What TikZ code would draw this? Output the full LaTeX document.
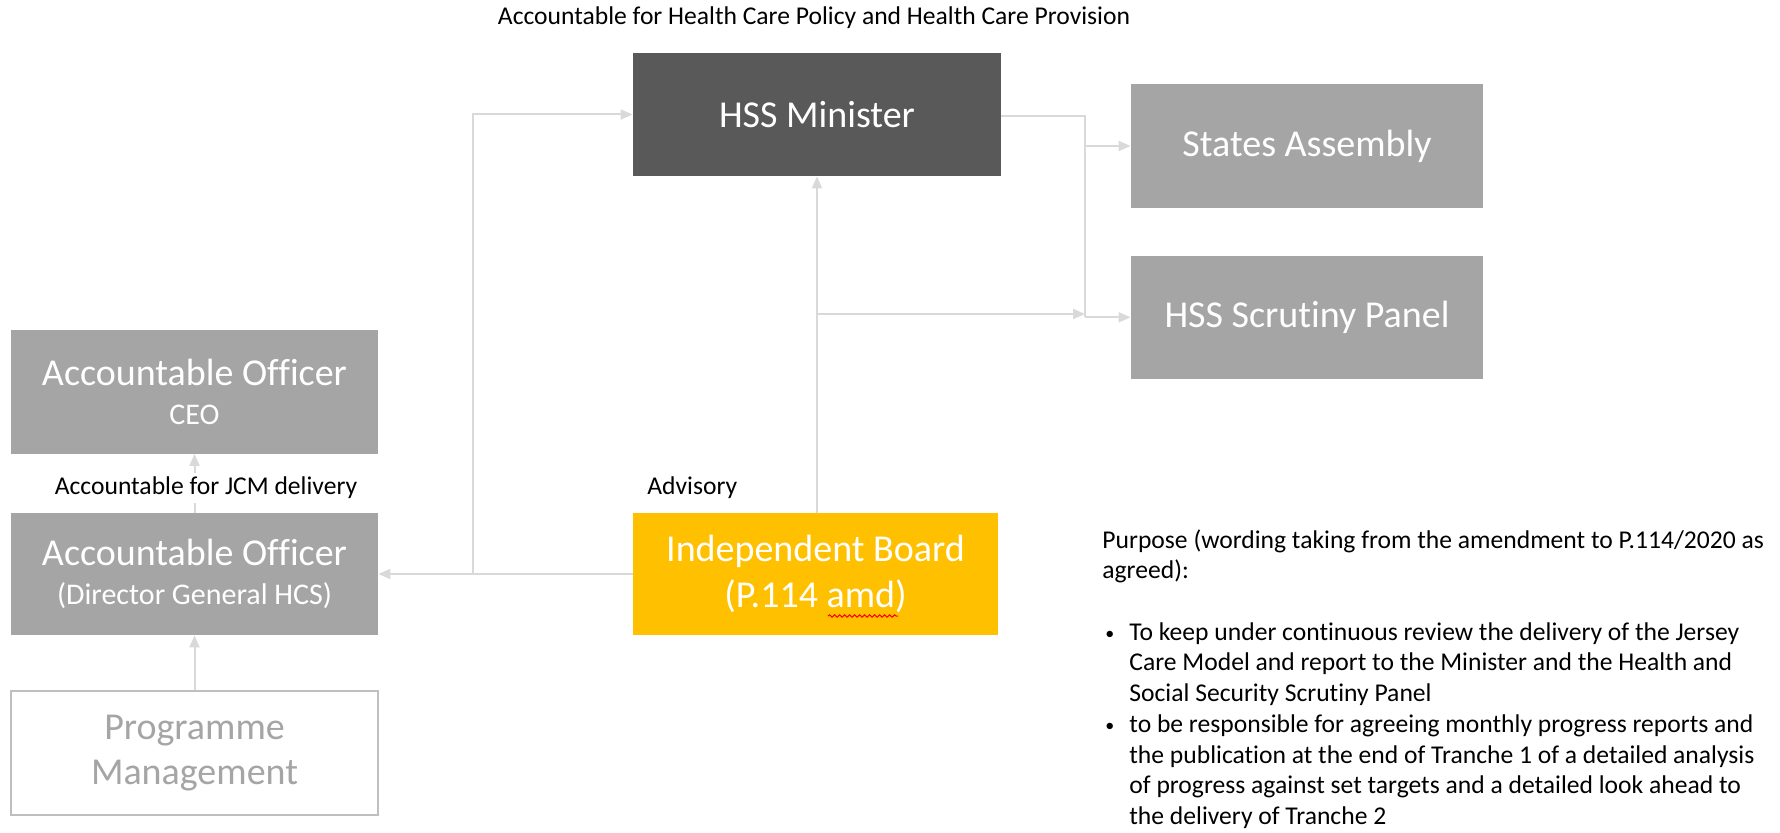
\documentclass[tikz,border=0pt]{standalone}
\usepackage{fontspec}
\setmainfont{Carlito}[Ligatures={NoCommon,NoRare}]
\usetikzlibrary{arrows.meta,positioning,decorations.pathmorphing}

\definecolor{boxgrey}{HTML}{A5A5A5}
\definecolor{darkgrey}{HTML}{595959}
\definecolor{boardgold}{HTML}{FFC000}
\definecolor{linegrey}{HTML}{D9D9D9}
\definecolor{softgrey}{HTML}{BFBFBF}

\newcommand{\purposebullet}{\makebox[13.5pt][l]{\hspace{1.5pt}\raisebox{0.6pt}{\fontsize{9}{9}\selectfont\textbullet}}}

\begin{document}
\begin{tikzpicture}[
    x=0.5pt, y=-0.5pt,
    node distance=23.5pt,
    box/.style={rectangle, fill=boxgrey, text=white, minimum width=183.5pt, minimum height=61.5pt, inner sep=0pt, align=center, font=\fontsize{19}{22.8}\selectfont},
    minister/.style={box, fill=darkgrey, minimum width=184pt},
    board/.style={box, fill=boardgold, minimum width=182.5pt, minimum height=61pt},
    progbox/.style={box, fill=white, draw=softgrey, line width=0.8pt, text=boxgrey},
    note/.style={inner sep=0pt, text=black, font=\fontsize{12.8}{15.35}\selectfont},
    conn/.style={draw=linegrey, line width=1pt, -{Triangle[length=6pt,width=5pt]}},
    wire/.style={draw=linegrey, line width=1pt},
]
    \useasboundingbox (0,0) rectangle (1780,833);

    % Minister and the bodies it reports to
    \node[minister] (minister) at (817,114.5) {HSS Minister};
    \node[box, minimum width=176pt, minimum height=62pt] (assembly) at (1307,146) {States Assembly};
    \node[box, minimum width=176pt, below=of assembly] (scrutiny) {HSS Scrutiny Panel};

    % Accountable officers
    \node[box] (ceo) at (194.5,392) {Accountable Officer\\[-3pt]{\fontsize{15}{18}\selectfont CEO}};
    \node[box, minimum height=61pt] (dg) at (194.5,574) {Accountable Officer\\[-3pt]{\fontsize{15}{18}\selectfont (Director General HCS)}};
    \node[progbox, minimum height=62pt, below=27.5pt of dg] (prog) {Programme\\Management};

    % Independent Board
    \node[board] (board) at (815.5,574) {Independent Board\\(P.114 amd)};
    \draw[red, line width=0.5pt, decorate, decoration={snake, amplitude=0.6pt, segment length=2.5pt}] (828,616) -- (898,616);

    % Junctions
    \coordinate (split) at (473,574);
    \coordinate (tap) at (817,314);
    \coordinate (rail) at (1085,116);

    % Connections
    \draw[conn] (board.west) -- (board.west -| dg.east);
    \draw[conn] (split) |- (minister.west);
    \draw[conn] (board.north -| tap) -- (minister.south -| tap);
    \draw[conn] (tap) -- (tap -| rail);
    \draw[wire] (minister.east |- rail) -- (rail) -- (rail |- scrutiny.west);
    \draw[conn] (rail |- assembly.west) -- (assembly.west);
    \draw[conn] (rail |- scrutiny.west) -- (scrutiny.west);
    \draw[conn] (dg.north) -- (ceo.south);
    \draw[conn] (prog.north) -- (dg.south);

    % Labels
    \node[note] (policy) at (814,18) {Accountable for Health Care Policy and Health Care Provision};
    \node[note, fill=white, inner sep=2pt] (jcm) at (206,488) {Accountable for JCM delivery};
    \node[note, anchor=west] (advisory) at (647,488) {Advisory};
    \node[note, anchor=north west, align=left] (purpose) at (1102,529) {%
        Purpose (wording taking from the amendment to P.114/2020 as\\
        agreed):\\[15.35pt]
        \purposebullet To keep under continuous review the delivery of the Jersey\\
        \hspace{13.5pt}Care Model and report to the Minister and the Health and\\
        \hspace{13.5pt}Social Security Scrutiny Panel\\
        \purposebullet to be responsible for agreeing monthly progress reports and\\
        \hspace{13.5pt}the publication at the end of Tranche 1 of a detailed analysis\\
        \hspace{13.5pt}of progress against set targets and a detailed look ahead to\\
        \hspace{13.5pt}the delivery of Tranche 2};
\end{tikzpicture}
\end{document}
